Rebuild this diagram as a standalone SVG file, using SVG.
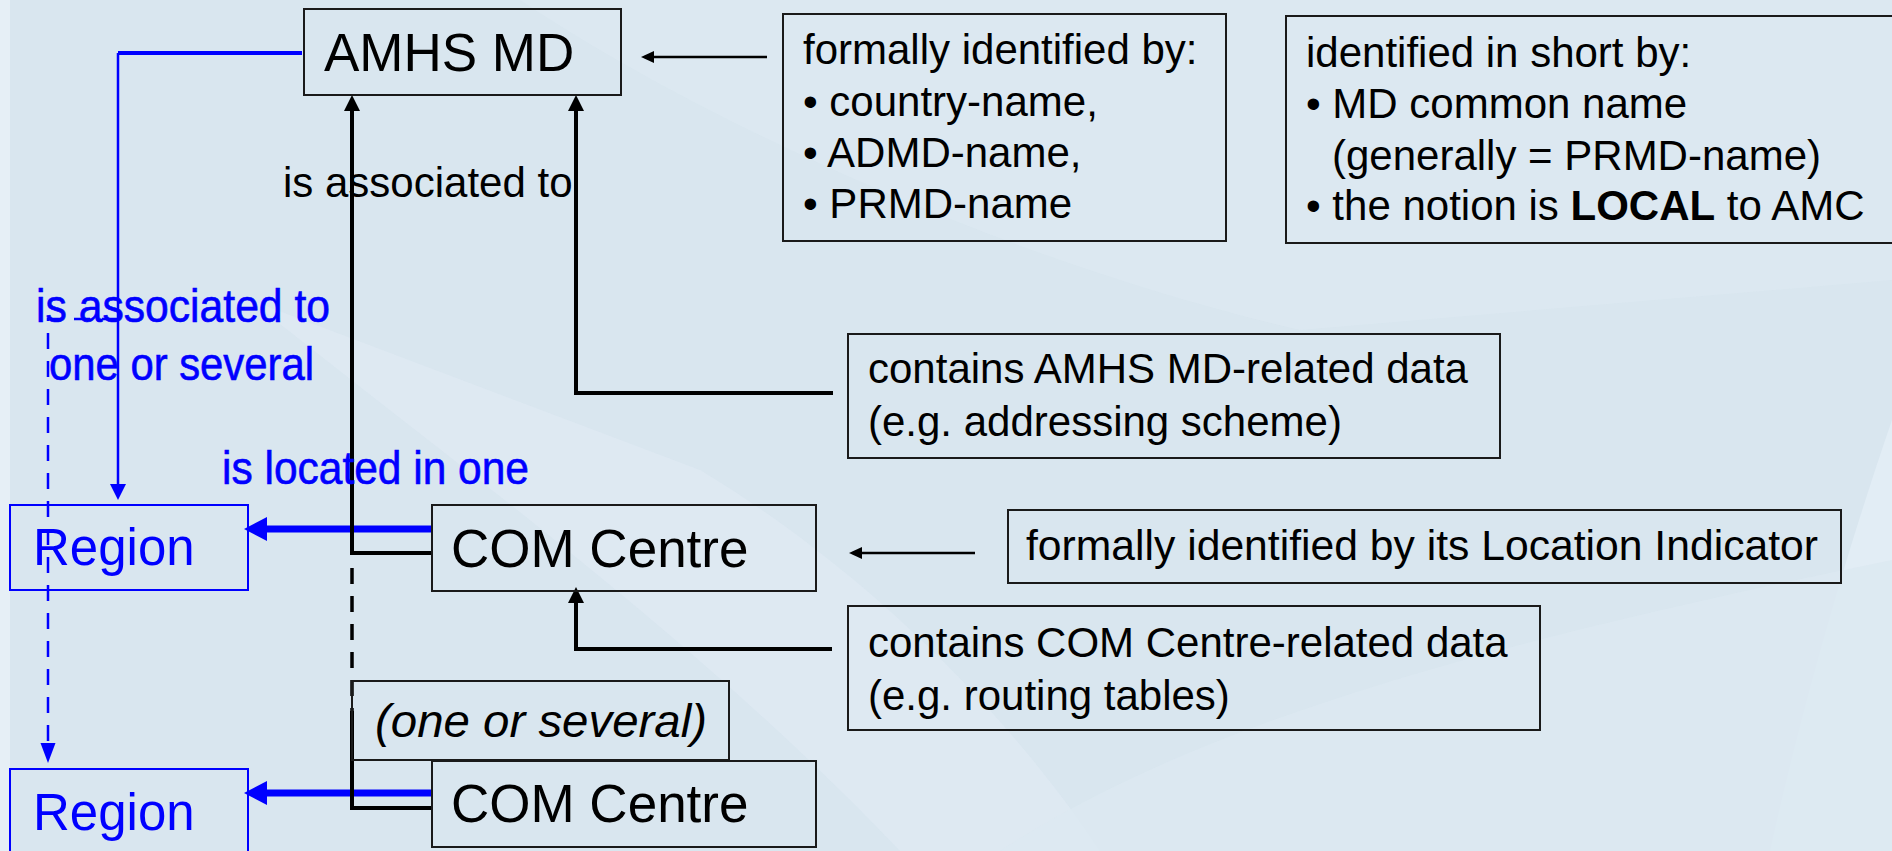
<svg xmlns="http://www.w3.org/2000/svg" width="1892" height="851" viewBox="0 0 1892 851">
<defs>
<style>
.t{font-family:"Liberation Sans",Arial,sans-serif;fill:#000}
.b{font-family:"Liberation Sans",Arial,sans-serif;fill:#0000ff}
.bn{font-family:"Liberation Sans Narrow","Arial Narrow","Liberation Sans",Arial,sans-serif;fill:#0000ff;stroke:#0000ff;stroke-width:0.6}
.box{fill:none;stroke:#1a1a1a;stroke-width:2}
.rbox{fill:none;stroke:#0000ff;stroke-width:2}
.k{fill:none;stroke:#000;stroke-width:4}
.kt{fill:none;stroke:#000;stroke-width:2.5}
</style>
<marker id="ah" markerUnits="userSpaceOnUse" markerWidth="16" markerHeight="16" refX="0" refY="8" orient="auto">
<path d="M0,0 L16,8 L0,16 z" fill="#000"/>
</marker>
<marker id="ahs" markerUnits="userSpaceOnUse" markerWidth="14" markerHeight="14" refX="0" refY="7" orient="auto">
<path d="M0,1 L13,7 L0,13 z" fill="#000"/>
</marker>
<marker id="bh" markerUnits="userSpaceOnUse" markerWidth="16" markerHeight="16" refX="0" refY="8" orient="auto">
<path d="M0,0 L16,8 L0,16 z" fill="#0000ff"/>
</marker>
<marker id="bhd" markerUnits="userSpaceOnUse" markerWidth="20" markerHeight="16" refX="0" refY="8" orient="auto">
<path d="M0,0.5 L20,8 L0,15.5 z" fill="#0000ff"/>
</marker>
<marker id="bhk" markerUnits="userSpaceOnUse" markerWidth="24" markerHeight="26" refX="0" refY="13" orient="auto">
<path d="M0,1 L23,13 L0,25 z" fill="#0000ff"/>
</marker>
</defs>
<rect x="0" y="0" width="1892" height="851" fill="#d9e6ef"/>
<path d="M0,0 H10 V851 H0 z" fill="#e6eff6"/>
<path d="M520,0 C700,120 1000,260 1300,330 L1892,280 L1892,0 z" fill="#dce8f1" opacity="0.8"/>
<path d="M250,300 C450,460 700,640 900,851 L1100,851 C1000,700 850,560 700,470 z" fill="#dfeaf3" opacity="0.7"/>
<path d="M1892,420 C1830,600 1790,760 1770,851 L1892,851 z" fill="#e2edf5"/>
<path d="M1000,851 C1200,720 1500,640 1892,560 L1892,851 z" fill="#dce8f1" opacity="0.8"/>

<g id="connectors">
<line x1="118" y1="53" x2="302" y2="53" stroke="#0000ff" stroke-width="4"/>
<path d="M118,53 V484" fill="none" stroke="#0000ff" stroke-width="2.5" marker-end="url(#bh)"/>
<path d="M118,319 H48 V743" fill="none" stroke="#0000ff" stroke-width="2.5" stroke-dasharray="16 12" marker-end="url(#bhd)"/>
<path d="M433,529 H267" fill="none" stroke="#0000ff" stroke-width="7" marker-end="url(#bhk)"/>
<path d="M433,793 H267" fill="none" stroke="#0000ff" stroke-width="7" marker-end="url(#bhk)"/>
<path d="M432,553 H352 V111" class="k" marker-end="url(#ah)"/>
<path d="M352,568 V711" fill="none" stroke="#000" stroke-width="3.5" stroke-dasharray="16 12"/>
<path d="M432,808 H352 V711" class="k"/>
<path d="M833,393 H576 V111" class="k" marker-end="url(#ah)"/>
<path d="M832,649 H576 V603" class="k" marker-end="url(#ah)"/>
<path d="M767,57 H654" class="kt" marker-end="url(#ahs)"/>
<path d="M975,553 H862" class="kt" marker-end="url(#ahs)"/>
</g>

<g id="amhs-md">
<rect class="box" x="304" y="9" width="317" height="86"/>
<text class="t" x="324" y="71" font-size="53">AMHS MD</text>
</g>

<g id="label-associated">
<text class="t" x="283" y="197" font-size="42">is associated to</text>
</g>

<g id="formal-id">
<rect class="box" x="783" y="14" width="443" height="227"/>
<text class="t" x="803" y="64" font-size="42">formally identified by:</text>
<text class="t" x="803" y="116" font-size="42">• country-name,</text>
<text class="t" x="803" y="167" font-size="42">• ADMD-name,</text>
<text class="t" x="803" y="218" font-size="42">• PRMD-name</text>
</g>

<g id="short-id">
<rect class="box" x="1286" y="16" width="640" height="227"/>
<text class="t" x="1306" y="67" font-size="42">identified in short by:</text>
<text class="t" x="1306" y="118" font-size="42">• MD common name</text>
<text class="t" x="1332" y="170" font-size="42">(generally = PRMD-name)</text>
<text class="t" x="1306" y="220" font-size="42">• the notion is <tspan font-weight="bold">LOCAL</tspan> to AMC</text>
</g>

<g id="blue-labels">
<text class="bn" x="36" y="322" font-size="46" textLength="294" lengthAdjust="spacingAndGlyphs">is associated to</text>
<text class="bn" x="49" y="380" font-size="46" textLength="265" lengthAdjust="spacingAndGlyphs">one or several</text>
<text class="bn" x="222" y="484" font-size="46" textLength="307" lengthAdjust="spacingAndGlyphs">is located in one</text>
</g>

<g id="md-data">
<rect class="box" x="848" y="334" width="652" height="124"/>
<text class="t" x="868" y="383" font-size="42">contains AMHS MD-related data</text>
<text class="t" x="868" y="436" font-size="42">(e.g. addressing scheme)</text>
</g>

<g id="region-1">
<rect class="rbox" x="10" y="505" width="238" height="85"/>
<text class="b" x="33" y="565" font-size="51">Region</text>
</g>

<g id="com-centre-1">
<rect class="box" x="432" y="505" width="384" height="86"/>
<text class="t" x="451" y="567" font-size="53">COM Centre</text>
</g>

<g id="location-indicator">
<rect class="box" x="1008" y="510" width="833" height="73"/>
<text class="t" x="1026" y="560" font-size="42" textLength="792" lengthAdjust="spacingAndGlyphs">formally identified by its Location Indicator</text>
</g>

<g id="com-data">
<rect class="box" x="848" y="606" width="692" height="124"/>
<text class="t" x="868" y="657" font-size="42">contains COM Centre-related data</text>
<text class="t" x="868" y="710" font-size="42">(e.g. routing tables)</text>
</g>

<g id="one-or-several">
<rect class="box" x="352" y="681" width="377" height="79"/>
<text class="t" x="375" y="737" font-size="46" font-style="italic" textLength="332" lengthAdjust="spacingAndGlyphs">(one or several)</text>
</g>

<g id="region-2">
<rect class="rbox" x="10" y="769" width="238" height="100"/>
<text class="b" x="33" y="830" font-size="51">Region</text>
</g>

<g id="com-centre-2">
<rect class="box" x="432" y="761" width="384" height="86"/>
<text class="t" x="451" y="822" font-size="53">COM Centre</text>
</g>
</svg>
